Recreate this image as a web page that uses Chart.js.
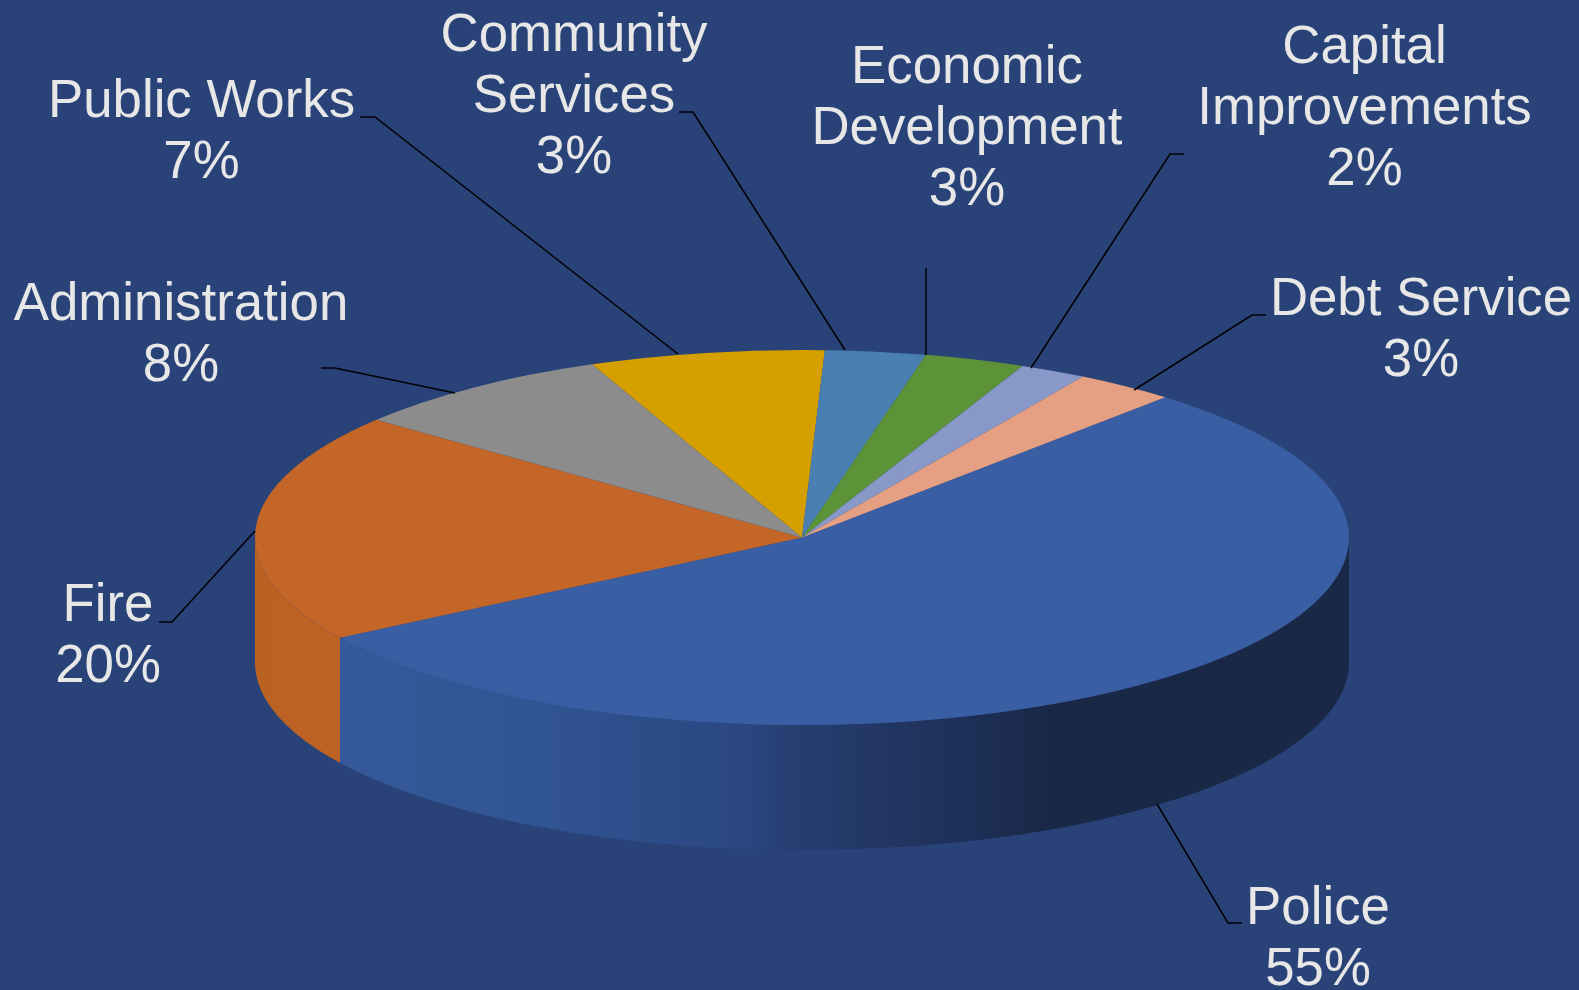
<!DOCTYPE html>
<html>
<head>
<meta charset="utf-8">
<title>General Fund Budget</title>
<style>
    html, body { margin: 0; padding: 0; background: #294379; overflow: hidden; }
    canvas { display: block; }
</style>
<script src="https://cdn.jsdelivr.net/npm/chart.js@4"></script>
</head>
<body>
<canvas id="budget-chart" width="1579" height="990"></canvas>
<script>
const categories = ['Police', 'Fire', 'Administration', 'Public Works', 'Community Services', 'Economic Development', 'Capital Improvements', 'Debt Service'];
const percents = [55, 20, 8, 7, 3, 3, 2, 3];
const sliceColors = ['#3a5ea3', '#c46628', '#8c8c8c', '#d69f00', '#4a7fb2', '#5c9338', '#8899c9', '#e59f82'];

// Where the flattened disc sits on the page
const disc = { x: 802, y: 537.5, rx: 547, ry: 187.5, depth: 125 };

// Callout text and leader lines around the disc
const callouts = [
    { lines: ['Police', '55%'], x: 1318, y: 923.5, leader: [[1157, 804], [1228, 923], [1242, 923]] },
    { lines: ['Fire', '20%'], x: 108, y: 621, leader: [[159, 622], [172, 622], [255, 531]] },
    { lines: ['Administration', '8%'], x: 181, y: 320, leader: [[321, 368], [335, 368], [455, 393]] },
    { lines: ['Public Works', '7%'], x: 201.5, y: 117, leader: [[360, 117], [375, 117], [678, 354]] },
    { lines: ['Community', 'Services', '3%'], x: 574, y: 50.5, leader: [[679, 112], [693, 112], [845, 350]] },
    { lines: ['Economic', 'Development', '3%'], x: 967, y: 82.5, leader: [[926, 268], [926, 355]] },
    { lines: ['Capital', 'Improvements', '2%'], x: 1364.5, y: 62.5, leader: [[1184, 154], [1170, 154], [1031, 368]] },
    { lines: ['Debt Service', '3%'], x: 1421, y: 315, leader: [[1266, 315], [1252, 315], [1134, 390]] }
];

// Side wall shading, left to right
const policeWallStops = [[0, '#35599b'], [0.2, '#315492'], [0.4, '#2a4781'], [0.45, '#263e70'], [0.62, '#1e3058'], [0.7, '#192847'], [1, '#192847']];
const fireWallStops = [[0, '#bb6222'], [1, '#bd6323']];

const discPlugin = {
    id: 'disc3d',
    beforeDatasetsDraw(chart) {
        const ctx = chart.ctx;
        const arcs = chart.getDatasetMeta(0).data;

        arcs.forEach((arc, i) => {
            const start = Math.max(arc.startAngle, 0);
            const end = Math.min(arc.endAngle, Math.PI);
            if (end <= start) return;

            const left = disc.x + disc.rx * Math.cos(end);
            const right = disc.x + disc.rx * Math.cos(start);
            const grad = ctx.createLinearGradient(left, 0, right, 0);
            (i === 0 ? policeWallStops : fireWallStops).forEach(s => grad.addColorStop(s[0], s[1]));

            ctx.beginPath();
            ctx.ellipse(disc.x, disc.y, disc.rx, disc.ry, 0, start, end);
            ctx.ellipse(disc.x, disc.y + disc.depth, disc.rx, disc.ry, 0, end, start, true);
            ctx.closePath();
            ctx.fillStyle = grad;
            ctx.fill();
        });

        // Squash the round pie into the top face of the disc
        const arc = arcs[0];
        ctx.save();
        ctx.translate(disc.x, disc.y);
        ctx.scale(disc.rx / arc.outerRadius, disc.ry / arc.outerRadius);
        ctx.translate(-arc.x, -arc.y);
    },
    afterDatasetsDraw(chart) {
        chart.ctx.restore();
    },
    afterDraw(chart) {
        const ctx = chart.ctx;
        ctx.save();

        ctx.strokeStyle = '#000000';
        ctx.lineWidth = 1.5;
        callouts.forEach(c => {
            ctx.beginPath();
            c.leader.forEach((p, i) => i ? ctx.lineTo(p[0], p[1]) : ctx.moveTo(p[0], p[1]));
            ctx.stroke();
        });

        ctx.fillStyle = '#e7e7e7';
        ctx.font = '52.8px "Liberation Sans"';
        ctx.textAlign = 'center';
        ctx.textBaseline = 'alphabetic';
        callouts.forEach(c => {
            c.lines.forEach((line, i) => ctx.fillText(line, c.x, c.y + i * 61));
        });
        ctx.restore();
    }
};

new Chart(document.getElementById('budget-chart').getContext('2d'), {
    type: 'pie',
    data: {
        labels: categories,
        datasets: [{
            data: percents,
            backgroundColor: sliceColors,
            borderWidth: 0,
            clip: false
        }]
    },
    options: {
        responsive: false,
        animation: false,
        events: [],
        rotation: 41.6,
        plugins: {
            legend: { display: false },
            tooltip: { enabled: false }
        }
    },
    plugins: [discPlugin]
});
</script>
</body>
</html>
